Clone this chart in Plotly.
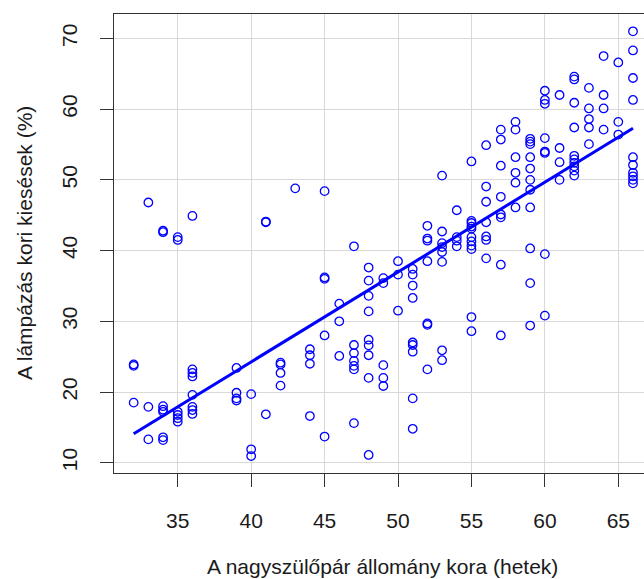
import numpy as np
import plotly.graph_objects as go

# Age of grandparent flock (weeks) and losses during the lamping period (%)
age_weeks = (
    [32] * 3 + [33] * 3 + [34] * 7 + [35] * 6 + [36] * 8 + [39] * 4 + [40] * 3 +
    [41] * 3 + [42] * 4 + [43] * 1 + [44] * 4 + [45] * 5 + [46] * 3 + [47] * 7 +
    [48] * 9 + [49] * 5 + [50] * 3 + [51] * 9 + [52] * 7 + [53] * 8 + [54] * 4 +
    [55] * 11 + [56] * 7 + [57] * 8 + [58] * 6 + [59] * 11 + [60] * 8 + [61] * 4 +
    [62] * 10 + [63] * 5 + [64] * 4 + [65] * 3 + [66] * 10
)
losses_pct = [
    23.9, 23.7, 18.5,                                      # 32
    46.8, 17.9, 13.3,                                      # 33
    42.8, 42.6, 18.0, 17.5, 17.2, 13.6, 13.2,              # 34
    41.9, 41.5, 17.2, 16.75, 16.3, 15.8,                   # 35
    44.9, 23.2, 22.7, 22.2, 19.6, 17.9, 17.45, 16.9,       # 36
    23.4, 19.9, 19.1, 18.8,                                # 39
    19.7, 11.9, 10.95,                                     # 40
    44.1, 44.0, 16.85,                                     # 41
    24.15, 23.9, 22.7, 20.9,                               # 42
    48.8,                                                  # 43
    26.05, 25.2, 24.0, 16.6,                               # 44
    48.4, 36.2, 36.0, 28.0, 13.7,                          # 45
    32.5, 30.0, 25.1,                                      # 46
    40.6, 26.65, 25.5, 24.4, 23.7, 23.2, 15.6,             # 47
    37.6, 35.75, 33.6, 31.4, 27.4, 26.6, 25.2, 22.0, 11.1, # 48
    36.1, 35.4, 23.8, 22.0, 20.85,                         # 49
    38.5, 36.6, 31.5,                                      # 50
    37.4, 36.6, 35.05, 33.3, 27.0, 26.65, 25.7, 19.1, 14.8,  # 51
    43.5, 41.7, 41.4, 38.5, 29.7, 29.5, 23.2,              # 52
    50.6, 42.7, 41.05, 40.5, 39.8, 38.4, 25.9, 24.5,       # 53
    45.7, 41.9, 41.4, 40.6,                                # 54
    52.6, 44.2, 43.9, 43.4, 43.1, 41.9, 41.3, 40.7, 40.2, 30.6, 28.6,  # 55
    54.9, 49.05, 46.9, 44.0, 42.0, 41.5, 38.9,             # 56
    57.1, 55.7, 52.0, 47.6, 45.1, 44.7, 38.0, 28.0,        # 57
    58.2, 57.1, 53.2, 51.0, 49.6, 46.1,                    # 58
    55.8, 55.4, 55.05, 53.2, 51.6, 50.0, 48.6, 46.1, 40.3, 35.4, 29.4,  # 59
    62.6, 61.3, 60.75, 55.9, 54.0, 53.8, 39.5, 30.8,       # 60
    62.0, 54.5, 52.5, 50.0,                                # 61
    64.6, 64.2, 60.9, 57.4, 53.4, 52.9, 52.4, 51.9, 51.3, 50.6,  # 62
    63.0, 60.1, 58.6, 57.4, 55.05,                         # 63
    67.5, 62.0, 60.1, 57.1,                                # 64
    66.6, 58.2, 56.4,                                      # 65
    71.0, 68.3, 64.4, 61.3, 53.2, 52.1, 51.0, 50.5, 50.0, 49.5,  # 66
]

# Linear regression of losses on flock age
fit_intercept = -26.56
fit_slope = 1.2706

x_ticks = [35, 40, 45, 50, 55, 60, 65]
y_ticks = [10, 20, 30, 40, 50, 60, 70]
x_title = "A nagyszülőpár állomány kora (hetek)"
y_title = "A lámpázás kori kiesések (%)"

x = np.array(age_weeks, dtype=float)
y = np.array(losses_pct, dtype=float)

# Regression line drawn over the observed age range
fit_x = np.array([x.min(), x.max()])
fit_y = fit_intercept + fit_slope * fit_x

BLUE = "#0000ff"
FONT = "Liberation Sans, Arial, sans-serif"

fig = go.Figure()
fig.add_trace(go.Scatter(
    x=x, y=y, mode="markers",
    marker=dict(symbol="circle-open", size=8.5, color=BLUE,
                line=dict(color=BLUE, width=1.3)),
    hoverinfo="x+y", showlegend=False,
))
fig.add_trace(go.Scatter(
    x=fit_x, y=fit_y, mode="lines",
    line=dict(color=BLUE, width=3),
    hoverinfo="skip", showlegend=False,
))

axis_common = dict(
    showgrid=True, gridcolor="#d9d9d9", gridwidth=1,
    zeroline=False,
    showline=True, linecolor="#333333", linewidth=1.3,
    ticks="outside", ticklen=13, tickwidth=1.3, tickcolor="#333333",
    tickfont=dict(family=FONT, size=21, color="#1a1a1a"),
)

fig.update_layout(
    width=644, height=579,
    margin=dict(l=114, r=0, t=14, b=106),
    paper_bgcolor="white", plot_bgcolor="white",
    xaxis=dict(range=[30.66, 66.75], tickvals=x_ticks, mirror=True,
               ticklabelstandoff=16, **axis_common),
    yaxis=dict(range=[8.55, 73.45], tickvals=y_ticks, tickangle=-90,
               ticklabelstandoff=14, **axis_common),
    annotations=[
        dict(text=x_title, xref="paper", yref="paper", x=0.5075, y=-0.204,
             xanchor="center", yanchor="middle", showarrow=False,
             font=dict(family=FONT, size=21, color="#1a1a1a")),
        dict(text=y_title, xref="paper", yref="paper", x=-0.17, y=0.501,
             xanchor="center", yanchor="middle", showarrow=False, textangle=-90,
             font=dict(family=FONT, size=21, color="#1a1a1a")),
    ],
)
# Right-hand edge of the frame stays clear of the window; the top edge is mirrored
fig.update_yaxes(mirror=False)

fig.write_html("out.html")
